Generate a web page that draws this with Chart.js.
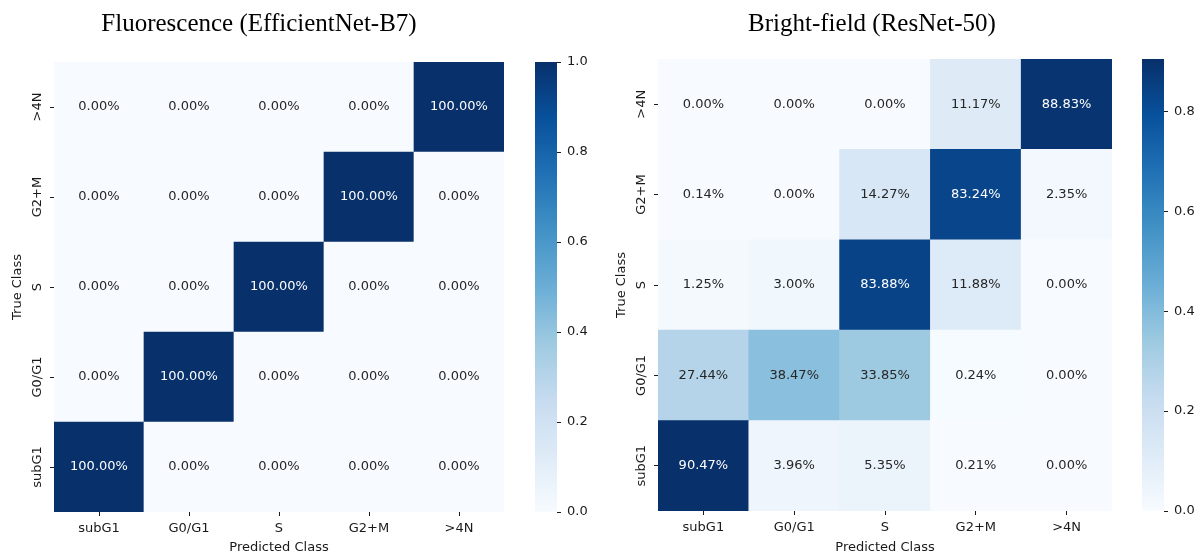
<!DOCTYPE html>
<html><head><meta charset="utf-8">
<script src="https://cdn.jsdelivr.net/npm/chart.js@4/dist/chart.umd.min.js"></script>
<style>
body{margin:0;background:#fff;width:1204px;height:557px;position:relative;overflow:hidden}
canvas{position:absolute;top:0}
</style></head><body>
<canvas id="hmA" width="518" height="557" style="left:0px"></canvas>
<canvas id="cbA" width="70" height="557" style="left:525px"></canvas>
<canvas id="hmB" width="524" height="557" style="left:610px"></canvas>
<canvas id="cbB" width="70" height="557" style="left:1132px"></canvas>
<script>
var predClasses = ["subG1","G0/G1","S","G2+M",">4N"]
// true classes from bottom row to top row
var trueClasses = ["subG1","G0/G1","S","G2+M",">4N"]
// percentages, one row per true class (bottom to top), columns = predicted
var fluoRows = [
	[100,0,0,0,0],
	[0,100,0,0,0],
	[0,0,100,0,0],
	[0,0,0,100,0],
	[0,0,0,0,100]
]
var brightRows = [
	[90.47,3.96,5.35,0.21,0.00],
	[27.44,38.47,33.85,0.24,0.00],
	[1.25,3.00,83.88,11.88,0.00],
	[0.14,0.00,14.27,83.24,2.35],
	[0.00,0.00,0.00,11.17,88.83]
]
var fluoTicks = [0,0.2,0.4,0.6,0.8,1.0]
var brightTicks = [0,0.2,0.4,0.6,0.8]

// matplotlib "Blues"
var blues = [[247,251,255],[222,235,247],[198,219,239],[158,202,225],[107,174,214],[66,146,198],[33,113,181],[8,81,156],[8,48,107]]
var font = {family:'"DejaVu Sans"', size:13}
var txt = "#1a1a1a"

function cmap(t){
	t = Math.max(0, Math.min(1, t))
	var p = t*(blues.length-1), i = Math.min(Math.floor(p), blues.length-2), f = p-i
	var a = blues[i], b = blues[i+1]
	return [0,1,2].map(function(k){ return Math.round(a[k]+(b[k]-a[k])*f) })
}
function rgb(c){ return "rgb("+c[0]+","+c[1]+","+c[2]+")" }
function lum(c){
	var l = c.map(function(v){ v/=255; return v<=0.03928 ? v/12.92 : Math.pow((v+0.055)/1.055,2.4) })
	return 0.2126*l[0]+0.7152*l[1]+0.0722*l[2]
}

var cellText = {
	id:"cellText",
	afterDatasetsDraw: function(chart){
		var c = chart.ctx
		c.save()
		c.font = '13px "DejaVu Sans"'
		c.textAlign = "center"
		c.textBaseline = "middle"
		chart.data.datasets.forEach(function(ds, d){
			chart.getDatasetMeta(d).data.forEach(function(bar, i){
				var p = bar.getCenterPoint()
				c.fillStyle = lum(ds.cols[i]) > 0.408 ? "#262626" : "#ffffff"
				c.fillText(ds.vals[i].toFixed(2)+"%", p.x, p.y)
			})
		})
		c.restore()
	}
}

function heatmap(id, rows, title, lay){
	var vmax = Math.max.apply(null, rows.map(function(r){ return Math.max.apply(null, r) }))
	var datasets = rows.map(function(row, r){
		var cols = row.map(function(v){ return cmap(v/vmax) })
		return {
			data: row.map(function(){ return [r, r+1] }),
			vals: row, cols: cols,
			backgroundColor: cols.map(rgb),
			borderWidth: 0, barPercentage: 1, categoryPercentage: 1, grouped: false
		}
	})
	new Chart(id, {type:"bar",
		data: {labels: predClasses, datasets: datasets},
		options: {
			responsive:false, animation:false,
			plugins:{
				legend:{display:false}, tooltip:{enabled:false},
				title:{display:true, text:title, color:"#000",
					font:{family:'"Liberation Serif"', size:25, weight:"normal"},
					padding:{top:9, bottom:lay.titleBottom}}
			},
			scales:{
				x:{
					grid:{offset:false, drawOnChartArea:false, tickLength:4, tickColor:txt},
					border:{display:false},
					ticks:{font:font, color:txt, padding:5},
					title:{display:true, text:"Predicted Class", font:font, color:txt, padding:{top:0, bottom:2}},
					afterFit: function(s){ s.height = lay.xh }
				},
				y:{
					min:0, max:5,
					grid:{drawOnChartArea:false, tickLength:4, tickColor:txt},
					border:{display:false},
					afterBuildTicks: function(s){ s.ticks = trueClasses.map(function(c, i){ return {value:i+0.5} }) },
					ticks:{font:font, color:txt, minRotation:90, maxRotation:90, crossAlign:"center", padding:-8,
						callback: function(v){ return trueClasses[Math.floor(v)] }},
					title:{display:true, text:"True Class", font:font, color:txt, padding:{top:lay.ytp, bottom:0}},
					afterFit: function(s){ s.width = lay.yw }
				},
				// empty spacer on the right so the title centres like the figure
				gap:{type:"linear", position:"right", grid:{display:false}, border:{display:false},
					ticks:{display:false}, afterFit: function(s){ s.width = lay.right }}
			}
		},
		plugins:[cellText]
	})
}

function colorbar(id, vmax, ticks, top, bottom){
	new Chart(id, {type:"bar",
		data: {labels:[""], datasets:[{
			data:[[0, vmax]],
			backgroundColor: function(ctx){
				var ch = ctx.chart
				if(!ch.chartArea) return null
				var y = ch.scales.y
				var g = ch.ctx.createLinearGradient(0, y.getPixelForValue(0), 0, y.getPixelForValue(vmax))
				blues.forEach(function(b, i){ g.addColorStop(i/(blues.length-1), rgb(b)) })
				return g
			},
			borderWidth:0, barPercentage:1, categoryPercentage:1
		}]},
		options:{
			responsive:false, animation:false,
			layout:{padding:{left:10, top:top, bottom:bottom}},
			plugins:{legend:{display:false}, tooltip:{enabled:false}},
			scales:{
				x:{display:false},
				y:{position:"right", min:0, max:vmax,
					afterBuildTicks: function(s){ s.ticks = ticks.map(function(v){ return {value:v} }) },
					ticks:{font:font, color:txt, padding:6, callback: function(v){ return v.toFixed(1) }},
					grid:{drawOnChartArea:false, tickLength:4, tickColor:txt},
					border:{display:false},
					afterFit: function(s){ s.width = 38 }
				}
			}
		}
	})
}

heatmap("hmA", fluoRows, "Fluorescence (EfficientNet-B7)", {right:14, titleBottom:23, xh:45, yw:54, ytp:10})
heatmap("hmB", brightRows, "Bright-field (ResNet-50)", {right:22, titleBottom:20, xh:46, yw:48, ytp:4})
colorbar("cbA", 1, fluoTicks, 62, 45)
colorbar("cbB", Math.max.apply(null, brightRows.map(function(r){ return Math.max.apply(null, r) }))/100, brightTicks, 59, 46)
</script>
</body></html>
